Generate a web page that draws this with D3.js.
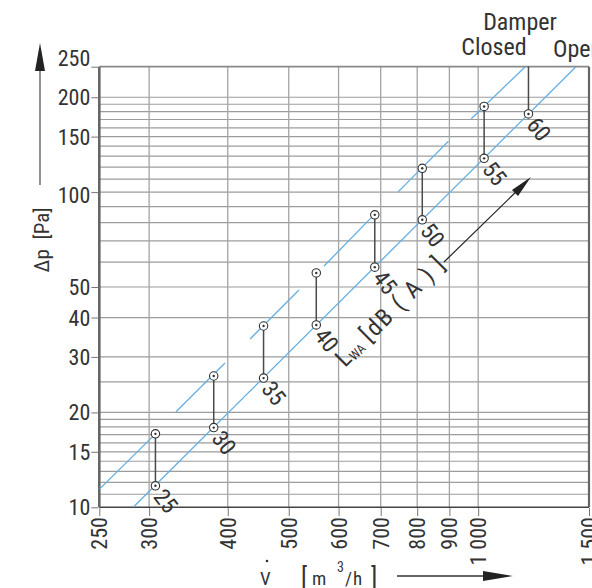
<!DOCTYPE html>
<html><head><meta charset="utf-8">
<script src="https://cdn.jsdelivr.net/npm/d3@7"></script>
<style>
html,body{margin:0;padding:0;background:#fff;}
svg{display:block;}
text{font-family:"Liberation Sans Narrow","Arial Narrow","Roboto Condensed","Liberation Sans",sans-serif;fill:#333;}
</style></head>
<body>
<svg id="c" width="592" height="588"></svg>
<script>
// ---- data ----
const xTicks = [250, 300, 400, 500, 600, 700, 800, 900, 1000, 1500];
const xTickLabels = ["250", "300", "400", "500", "600", "700", "800", "900", "1 000", "1 500"];
const xGrid = [300, 400, 500, 600, 700, 800, 900, 1000];
const yTicks = [10, 15, 20, 30, 40, 50, 100, 150, 200, 250];
const yTickLabels = ["10", "15", "20", "30", "40", "50", "100", "150", "200", "250"];
const yGrid = [11, 12, 13, 14, 15, 16, 17, 18, 19, 20, 25, 30, 40, 50, 60, 70, 80, 90,
               100, 110, 120, 130, 140, 150, 160, 170, 180, 190, 200];
const levels = ["25", "30", "35", "40", "45", "50", "55", "60"];
const flow = [307, 380, 456, 553, 685, 815, 1022, 1202];
const dpOpen = [11.7, 17.9, 25.7, 37.9, 57.8, 81.7, 128, 177];
const dpClosed = [17.1, 26.1, 37.6, 55.4, 84.7, 119, 187, 259];
const openLine = [[283, 10], [1430, 250]];
const closedSegments = [
  [[250, 11.4], [307, 17.1]],
  [[331, 20.1], [396, 28.7]],
  [[434, 34.2], [519, 48.9]],
  [[569, 58.3], [683, 84.7]],
  [[746, 100.2], [897, 145]],
  [[975, 171], [1188, 250]]
];

// ---- drawing ----
const svg = d3.select("#c");
const x = d3.scaleLog().domain([250, 1500]).range([99.3, 589]);
const y = d3.scaleLog().domain([10, 250]).range([507.3, 66.7]);
const L = x(250), R = x(1500), T = y(250), B = y(10);

svg.append("rect").attr("width", 592).attr("height", 588).attr("fill", "#fff");

svg.append("defs").append("clipPath").attr("id", "plot")
  .append("rect").attr("x", L).attr("y", T).attr("width", R - L).attr("height", B - T);

// grid
const grid = svg.append("g");
grid.selectAll("line.h").data(yGrid).join("line")
  .attr("x1", L).attr("x2", R).attr("y1", d => y(d)).attr("y2", d => y(d))
  .attr("stroke", "#9c9c9c").attr("stroke-width", 1.2);
grid.selectAll("line.v").data(xGrid).join("line")
  .attr("y1", T).attr("y2", B).attr("x1", d => x(d)).attr("x2", d => x(d))
  .attr("stroke", "#a4a4a4").attr("stroke-width", 1.3);

// frame
svg.append("line").attr("x1", L).attr("x2", R).attr("y1", T).attr("y2", T).attr("stroke", "#888").attr("stroke-width", 1.7);
svg.append("line").attr("x1", R).attr("x2", R).attr("y1", T).attr("y2", B).attr("stroke", "#666").attr("stroke-width", 2.2);
svg.append("line").attr("x1", L).attr("x2", R).attr("y1", B).attr("y2", B).attr("stroke", "#444").attr("stroke-width", 1.6);
svg.append("line").attr("x1", L).attr("x2", L).attr("y1", T).attr("y2", B).attr("stroke", "#666").attr("stroke-width", 2.6);

// axes
const yAxis = svg.append("g").attr("transform", `translate(${L - 1},0)`)
  .call(d3.axisLeft(y).tickValues(yTicks).tickFormat((d, i) => yTickLabels[i]).tickSize(7).tickPadding(1));
yAxis.select(".domain").remove();
yAxis.selectAll(".tick line").attr("stroke", "#777");
yAxis.selectAll(".tick text").attr("font-size", 22).attr("fill", "#333")
  .attr("font-family", null)
  .attr("dy", (d) => d === 250 ? "-0.05em" : (d === 100 ? "0.45em" : "0.34em"));

const xAxis = svg.append("g").attr("transform", `translate(0,${B + 0.8})`)
  .call(d3.axisBottom(x).tickValues(xTicks).tickFormat((d, i) => xTickLabels[i]).tickSize(8));
xAxis.select(".domain").remove();
xAxis.selectAll(".tick line").attr("stroke", "#777");
xAxis.selectAll(".tick text").attr("font-size", 22).attr("fill", "#333").attr("font-family", null)
  .attr("transform", "rotate(-90)").attr("text-anchor", "end")
  .attr("x", -9).attr("y", 0).attr("dy", "0.34em");

// curves
const plot = svg.append("g").attr("clip-path", "url(#plot)");
const line = d3.line().x(d => x(d[0])).y(d => y(d[1]));
plot.append("path").attr("d", line(openLine)).attr("fill", "none")
  .attr("stroke", "#64afe2").attr("stroke-width", 1.3);
plot.selectAll("path.seg").data(closedSegments).join("path")
  .attr("d", d => line(d)).attr("fill", "none")
  .attr("stroke", "#64afe2").attr("stroke-width", 1.3);

// connectors
plot.selectAll("line.conn").data(flow).join("line")
  .attr("x1", d => x(d)).attr("x2", d => x(d))
  .attr("y1", (d, i) => y(dpClosed[i])).attr("y2", (d, i) => y(dpOpen[i]))
  .attr("stroke", "#4a4a4a").attr("stroke-width", 1.5);

// markers
const pts = [];
flow.forEach((v, i) => { pts.push([v, dpOpen[i]]); pts.push([v, dpClosed[i]]); });
const mk = plot.selectAll("g.mk").data(pts).join("g")
  .attr("transform", d => `translate(${x(d[0])},${y(d[1])})`);
mk.append("circle").attr("r", 4.2).attr("fill", "#fff").attr("stroke", "#333").attr("stroke-width", 1.1);
mk.append("circle").attr("r", 1.2).attr("fill", "#333");

// level labels
svg.selectAll("text.lvl").data(levels).join("text")
  .attr("transform", (d, i) => `translate(${x(flow[i])},${y(dpOpen[i])}) rotate(52)`)
  .attr("x", 7).attr("dy", "0.4em").attr("font-size", 23).attr("fill", "#333")
  .text(d => d);

// LWA label
const lw = svg.append("text").attr("transform", "translate(345,368) rotate(-45)")
  .attr("font-size", 24).attr("fill", "#333");
lw.append("tspan").text("L");
lw.append("tspan").attr("font-size", 13).attr("dy", 2).text("WA");
lw.append("tspan").attr("dy", -2).attr("xml:space", "preserve").attr("letter-spacing", 2).text("\u2009[dB ( A ) ]");
// LWA arrow
svg.append("line").attr("x1", 444).attr("y1", 262).attr("x2", 520).attr("y2", 188)
  .attr("stroke", "#222").attr("stroke-width", 1.2);
svg.append("path").attr("d", "M531,177 L512,190 L518,196 Z").attr("fill", "#222");

// Damper labels
svg.append("text").attr("x", 520).attr("y", 30).attr("text-anchor", "middle").attr("font-size", 24).attr("fill", "#444").text("Damper");
svg.append("text").attr("x", 494).attr("y", 54.5).attr("text-anchor", "middle").attr("font-size", 24).attr("fill", "#444").text("Closed");
svg.append("text").attr("x", 553).attr("y", 56.5).attr("font-size", 24).attr("fill", "#444").text("Open");

// y label and arrow
svg.append("text").attr("transform", "translate(49,240) rotate(-90)")
  .attr("text-anchor", "middle").attr("font-size", 21).attr("fill", "#333")
  .attr("xml:space", "preserve").text("\u0394p  [Pa]");
svg.append("line").attr("x1", 40).attr("x2", 40).attr("y1", 185).attr("y2", 68).attr("stroke", "#555").attr("stroke-width", 1.3);
svg.append("path").attr("d", "M40,43 L35,71 L45,71 Z").attr("fill", "#222");

// x label and arrow
svg.append("text").attr("x", 260).attr("y", 585).attr("font-size", 19).attr("fill", "#333").text("V");
svg.append("circle").attr("cx", 267).attr("cy", 561).attr("r", 1.3).attr("fill", "#333");
const xl = svg.append("g").attr("fill", "#333");
xl.append("text").attr("x", 301).attr("y", 586).attr("font-size", 25).text("[");
xl.append("text").attr("x", 312).attr("y", 585).attr("font-size", 19).text("m");
xl.append("text").attr("x", 337).attr("y", 572).attr("font-size", 14).text("3");
xl.append("text").attr("x", 345).attr("y", 585).attr("font-size", 19).text("/");
xl.append("text").attr("x", 353).attr("y", 585).attr("font-size", 19).text("h");
xl.append("text").attr("x", 371).attr("y", 586).attr("font-size", 25).text("]");
svg.append("line").attr("x1", 397).attr("x2", 490).attr("y1", 576).attr("y2", 576).attr("stroke", "#333").attr("stroke-width", 1.3);
svg.append("path").attr("d", "M513,576 L483,571 L483,581 Z").attr("fill", "#222");
</script>
</body></html>
